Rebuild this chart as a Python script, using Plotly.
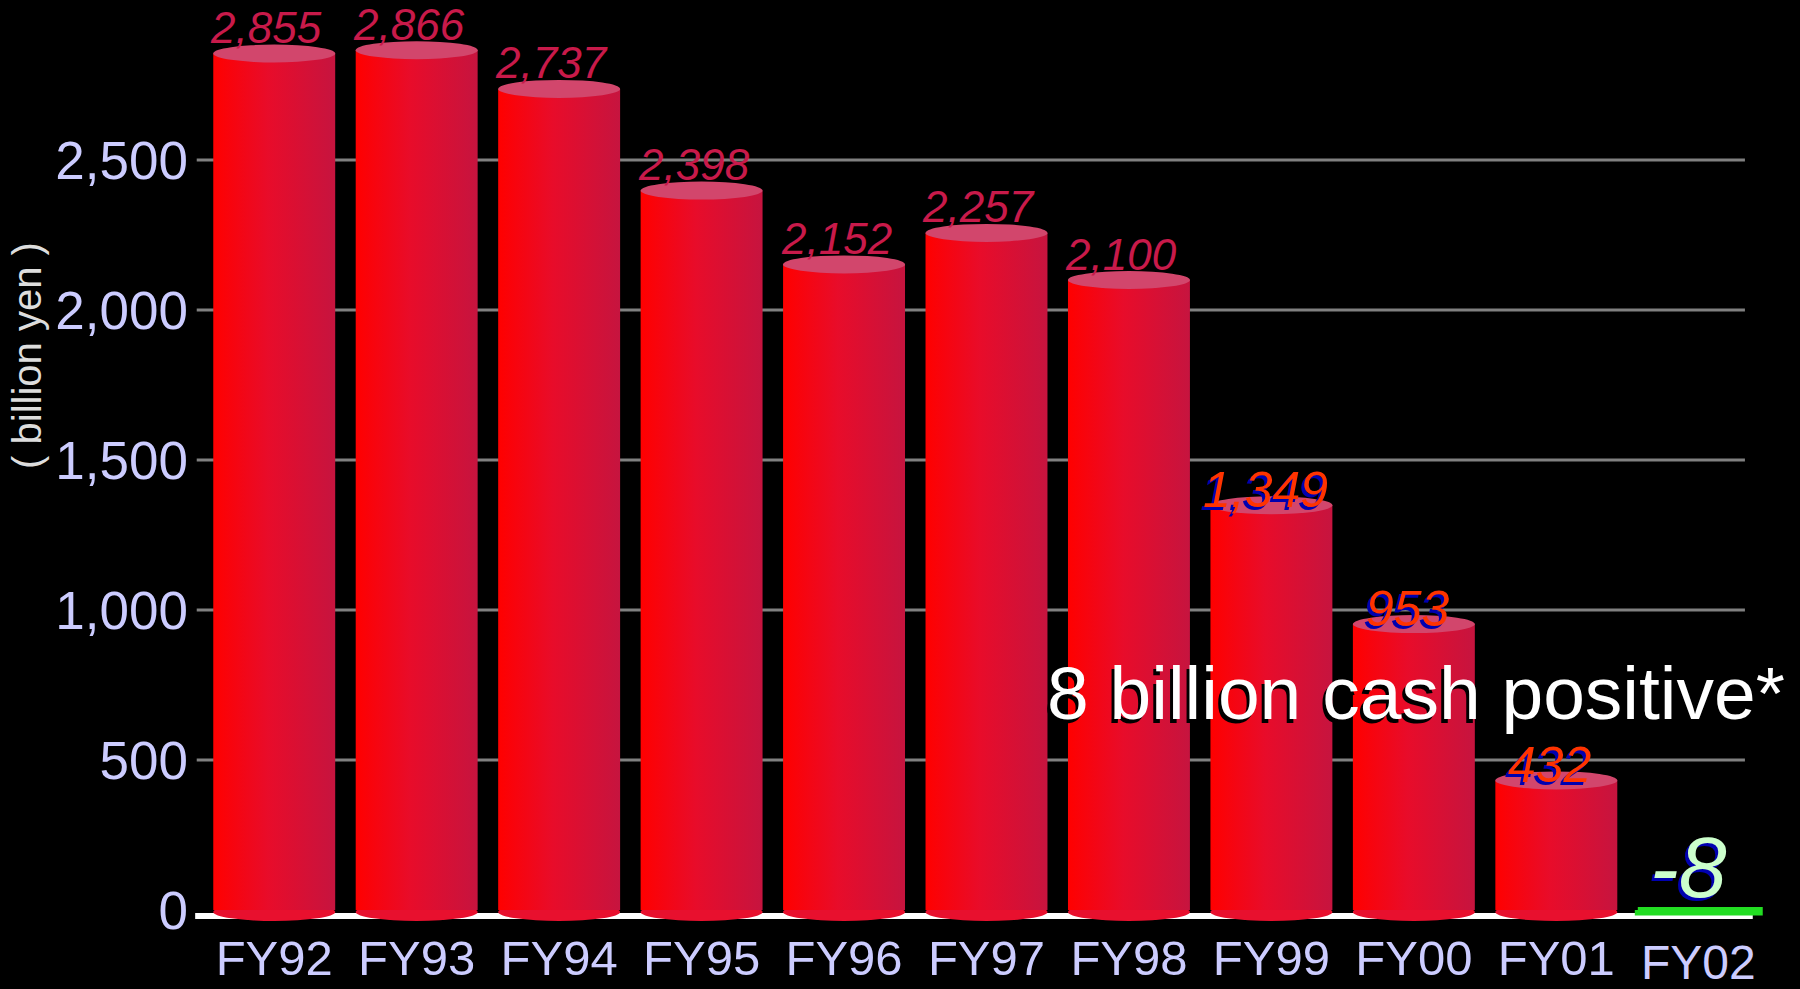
import plotly.graph_objects as go

# ---- data ----
categories = ["FY92", "FY93", "FY94", "FY95", "FY96", "FY97", "FY98",
              "FY99", "FY00", "FY01", "FY02"]
values = [2855, 2866, 2737, 2398, 2152, 2257, 2100, 1349, 953, 432, -8]
y_ticks = [0, 500, 1000, 1500, 2000, 2500]
callout_text = "8 billion cash positive*"
y_title = "( billion yen )"

FONT = "Liberation Sans, Arial, Helvetica, sans-serif"
HALF = 0.428

fig = go.Figure()

red_scale = [[0, "#ff0000"], [0.45, "#e80c2a"], [1, "#c6143f"]]
green_scale = [[0, "#2ecc2e"], [1, "#00ff00"]]

for i, v in enumerate(values):
    xs = [i - HALF, i + HALF, i + HALF, i - HALF, i - HALF]
    ys = [0, 0, v, v, 0]
    if v >= 0:
        fig.add_trace(go.Scatter(
            x=xs, y=ys, fill="toself", mode="lines",
            line=dict(width=0, color="rgba(0,0,0,0)"),
            fillgradient=dict(type="horizontal", colorscale=red_scale),
            hoverinfo="skip", showlegend=False))
    else:
        fig.add_trace(go.Scatter(
            x=xs, y=ys, fill="toself", mode="lines",
            line=dict(width=6, color="#22dd22"),
            fillgradient=dict(type="horizontal", colorscale=green_scale),
            hoverinfo="skip", showlegend=False))

shapes = []
# gridlines
for t in y_ticks:
    if t == 0:
        continue
    shapes.append(dict(type="line", xref="paper", yref="y", x0=-0.004, x1=0.984,
                       y0=t, y1=t, line=dict(color="#808080", width=3), layer="below"))
# bottom ellipses of cylinders
for i, v in enumerate(values):
    if v > 0:
        shapes.append(dict(type="circle", xref="x", yref="y", x0=i - HALF, x1=i + HALF,
                           ysizemode="pixel", yanchor=0, y0=-11, y1=7,
                           fillcolor="#e8102e", line=dict(width=0), layer="below"))
# white baseline
shapes.append(dict(type="line", xref="paper", yref="y", x0=-0.005, x1=0.989,
                   ysizemode="pixel", yanchor=0, y0=-6, y1=-6,
                   line=dict(color="#ffffff", width=6), layer="below"))
# top ellipses of cylinders
for i, v in enumerate(values):
    if v > 0:
        shapes.append(dict(type="circle", xref="x", yref="y", x0=i - HALF, x1=i + HALF,
                           ysizemode="pixel", yanchor=v, y0=-9, y1=9,
                           fillcolor="#d2466c", line=dict(width=0)))

annotations = []
for i, v in enumerate(values):
    label = f"{v:,}"
    if v < 0:
        annotations.append(dict(x=i, y=v, xref="x", yref="y", text=label, showarrow=False,
                                xanchor="center", yanchor="middle",
                                xshift=-10, yshift=45,
                                font=dict(family=FONT, size=86, color="#ccffcc", style="italic",
                                          shadow="-3px 3px 0px #0000b0")))
    elif i >= 7:
        annotations.append(dict(x=i, y=v, xref="x", yref="y", text=label, showarrow=False,
                                xanchor="center", yanchor="middle",
                                xshift=-6, yshift=15,
                                font=dict(family=FONT, size=50, color="#ff3300", style="italic",
                                          shadow="-3px 3px 0px #0000b0")))
    else:
        annotations.append(dict(x=i, y=v, xref="x", yref="y", text=label, showarrow=False,
                                xanchor="center", yanchor="middle",
                                xshift=-8, yshift=26,
                                font=dict(family=FONT, size=44, color="#c81a4a", style="italic")))

# FY02 category label (sits lower than the others)
annotations.append(dict(x=10, y=0, xref="x", yref="paper", text=categories[10], showarrow=False,
                        xanchor="center", yanchor="middle", yshift=-37,
                        font=dict(family=FONT, size=48, color="#ccccff")))

# callout
annotations.append(dict(x=0.774, y=0.251, xref="paper", yref="paper", text=callout_text,
                        showarrow=False, xanchor="center", yanchor="middle",
                        font=dict(family=FONT, size=75, color="#ffffff",
                                  shadow="-3px 4px 0px #000000")))

# y axis title
annotations.append(dict(x=-0.1125, y=0.616, xref="paper", yref="paper", text=y_title,
                        showarrow=False, textangle=-90, xanchor="center", yanchor="middle",
                        font=dict(family=FONT, size=40, color="#dddddd")))

fig.update_layout(
    width=1800, height=989,
    margin=dict(l=203, r=30, t=0, b=64),
    paper_bgcolor="#000000", plot_bgcolor="#000000",
    showlegend=False,
    shapes=shapes,
    annotations=annotations,
    xaxis=dict(range=[-0.5, 10.5], tickvals=list(range(10)), ticktext=categories[:10],
               showgrid=False, zeroline=False, showline=False, ticks="",
               tickfont=dict(family=FONT, size=49, color="#ccccff"), ticklabelstandoff=0),
    yaxis=dict(range=[-50, 3033.33], tickvals=y_ticks, tickformat=",d",
               showgrid=False, zeroline=False, showline=False, ticks="",
               tickfont=dict(family=FONT, size=53, color="#ccccff"), ticklabelstandoff=14),
)

fig.write_html("out.html")
